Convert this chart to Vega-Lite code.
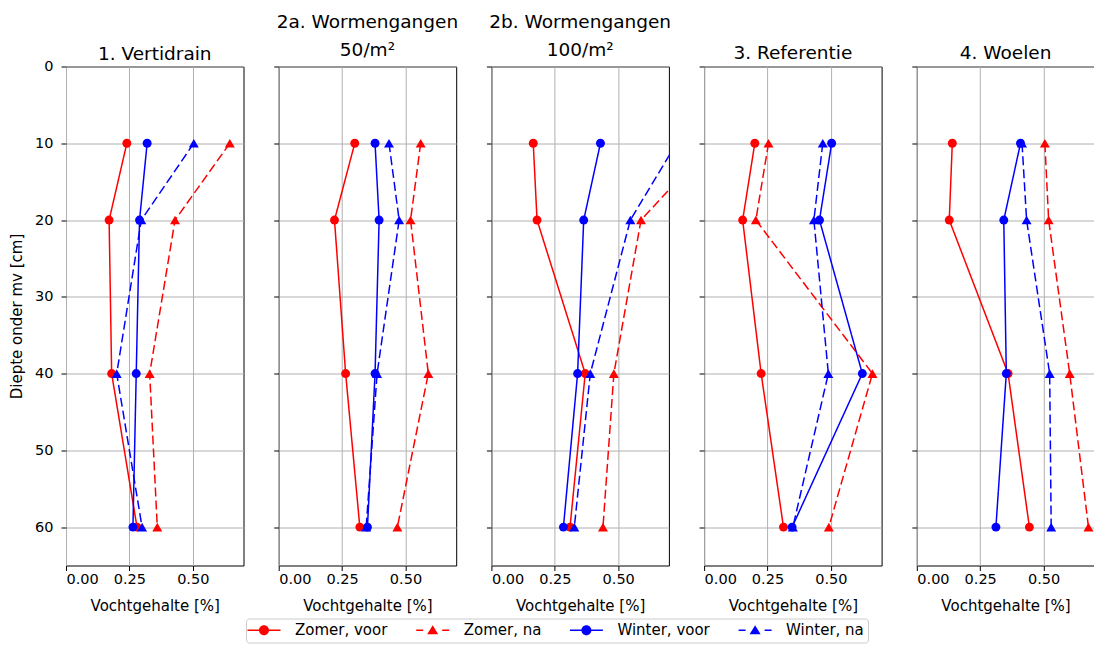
{
  "$schema": "https://vega.github.io/schema/vega-lite/v6.json",
  "autosize": {"type": "pad"},
  "padding": {"left": 8, "top": 12.5, "right": 0, "bottom": 3},
  "background": "#ffffff",
  "bounds": "flush",
  "spacing": 34.7,
  "data": {"values": [
    {"panel": "1", "series": "Zomer, voor", "depth": 10, "value": 0.24},
    {"panel": "1", "series": "Zomer, voor", "depth": 20, "value": 0.17},
    {"panel": "1", "series": "Zomer, voor", "depth": 40, "value": 0.18},
    {"panel": "1", "series": "Zomer, voor", "depth": 60, "value": 0.28},
    {"panel": "1", "series": "Zomer, na", "depth": 10, "value": 0.646},
    {"panel": "1", "series": "Zomer, na", "depth": 20, "value": 0.43},
    {"panel": "1", "series": "Zomer, na", "depth": 40, "value": 0.33},
    {"panel": "1", "series": "Zomer, na", "depth": 60, "value": 0.36},
    {"panel": "1", "series": "Winter, voor", "depth": 10, "value": 0.32},
    {"panel": "1", "series": "Winter, voor", "depth": 20, "value": 0.29},
    {"panel": "1", "series": "Winter, voor", "depth": 40, "value": 0.277},
    {"panel": "1", "series": "Winter, voor", "depth": 60, "value": 0.264},
    {"panel": "1", "series": "Winter, na", "depth": 10, "value": 0.504},
    {"panel": "1", "series": "Winter, na", "depth": 20, "value": 0.297},
    {"panel": "1", "series": "Winter, na", "depth": 40, "value": 0.2},
    {"panel": "1", "series": "Winter, na", "depth": 60, "value": 0.3},
    {"panel": "2a", "series": "Zomer, voor", "depth": 10, "value": 0.3},
    {"panel": "2a", "series": "Zomer, voor", "depth": 20, "value": 0.22},
    {"panel": "2a", "series": "Zomer, voor", "depth": 40, "value": 0.264},
    {"panel": "2a", "series": "Zomer, voor", "depth": 60, "value": 0.32},
    {"panel": "2a", "series": "Zomer, na", "depth": 10, "value": 0.56},
    {"panel": "2a", "series": "Zomer, na", "depth": 20, "value": 0.52},
    {"panel": "2a", "series": "Zomer, na", "depth": 40, "value": 0.59},
    {"panel": "2a", "series": "Zomer, na", "depth": 60, "value": 0.468},
    {"panel": "2a", "series": "Winter, voor", "depth": 10, "value": 0.38},
    {"panel": "2a", "series": "Winter, voor", "depth": 20, "value": 0.396},
    {"panel": "2a", "series": "Winter, voor", "depth": 40, "value": 0.38},
    {"panel": "2a", "series": "Winter, voor", "depth": 60, "value": 0.35},
    {"panel": "2a", "series": "Winter, na", "depth": 10, "value": 0.435},
    {"panel": "2a", "series": "Winter, na", "depth": 20, "value": 0.475},
    {"panel": "2a", "series": "Winter, na", "depth": 40, "value": 0.388},
    {"panel": "2a", "series": "Winter, na", "depth": 60, "value": 0.345},
    {"panel": "2b", "series": "Zomer, voor", "depth": 10, "value": 0.165},
    {"panel": "2b", "series": "Zomer, voor", "depth": 20, "value": 0.18},
    {"panel": "2b", "series": "Zomer, voor", "depth": 40, "value": 0.37},
    {"panel": "2b", "series": "Zomer, voor", "depth": 60, "value": 0.31},
    {"panel": "2b", "series": "Zomer, na", "depth": 10, "value": 0.87},
    {"panel": "2b", "series": "Zomer, na", "depth": 20, "value": 0.59},
    {"panel": "2b", "series": "Zomer, na", "depth": 40, "value": 0.483},
    {"panel": "2b", "series": "Zomer, na", "depth": 60, "value": 0.44},
    {"panel": "2b", "series": "Winter, voor", "depth": 10, "value": 0.43},
    {"panel": "2b", "series": "Winter, voor", "depth": 20, "value": 0.364},
    {"panel": "2b", "series": "Winter, voor", "depth": 40, "value": 0.34},
    {"panel": "2b", "series": "Winter, voor", "depth": 60, "value": 0.284},
    {"panel": "2b", "series": "Winter, na", "depth": 10, "value": 0.73},
    {"panel": "2b", "series": "Winter, na", "depth": 20, "value": 0.548},
    {"panel": "2b", "series": "Winter, na", "depth": 40, "value": 0.39},
    {"panel": "2b", "series": "Winter, na", "depth": 60, "value": 0.327},
    {"panel": "3", "series": "Zomer, voor", "depth": 10, "value": 0.2},
    {"panel": "3", "series": "Zomer, voor", "depth": 20, "value": 0.152},
    {"panel": "3", "series": "Zomer, voor", "depth": 40, "value": 0.225},
    {"panel": "3", "series": "Zomer, voor", "depth": 60, "value": 0.313},
    {"panel": "3", "series": "Zomer, na", "depth": 10, "value": 0.254},
    {"panel": "3", "series": "Zomer, na", "depth": 20, "value": 0.204},
    {"panel": "3", "series": "Zomer, na", "depth": 40, "value": 0.664},
    {"panel": "3", "series": "Zomer, na", "depth": 60, "value": 0.492},
    {"panel": "3", "series": "Winter, voor", "depth": 10, "value": 0.503},
    {"panel": "3", "series": "Winter, voor", "depth": 20, "value": 0.455},
    {"panel": "3", "series": "Winter, voor", "depth": 40, "value": 0.624},
    {"panel": "3", "series": "Winter, voor", "depth": 60, "value": 0.347},
    {"panel": "3", "series": "Winter, na", "depth": 10, "value": 0.468},
    {"panel": "3", "series": "Winter, na", "depth": 20, "value": 0.433},
    {"panel": "3", "series": "Winter, na", "depth": 40, "value": 0.49},
    {"panel": "3", "series": "Winter, na", "depth": 60, "value": 0.35},
    {"panel": "4", "series": "Zomer, voor", "depth": 10, "value": 0.14},
    {"panel": "4", "series": "Zomer, voor", "depth": 20, "value": 0.128},
    {"panel": "4", "series": "Zomer, voor", "depth": 40, "value": 0.36},
    {"panel": "4", "series": "Zomer, voor", "depth": 60, "value": 0.444},
    {"panel": "4", "series": "Zomer, na", "depth": 10, "value": 0.505},
    {"panel": "4", "series": "Zomer, na", "depth": 20, "value": 0.52},
    {"panel": "4", "series": "Zomer, na", "depth": 40, "value": 0.603},
    {"panel": "4", "series": "Zomer, na", "depth": 60, "value": 0.677},
    {"panel": "4", "series": "Winter, voor", "depth": 10, "value": 0.409},
    {"panel": "4", "series": "Winter, voor", "depth": 20, "value": 0.343},
    {"panel": "4", "series": "Winter, voor", "depth": 40, "value": 0.353},
    {"panel": "4", "series": "Winter, voor", "depth": 60, "value": 0.312},
    {"panel": "4", "series": "Winter, na", "depth": 10, "value": 0.415},
    {"panel": "4", "series": "Winter, na", "depth": 20, "value": 0.433},
    {"panel": "4", "series": "Winter, na", "depth": 40, "value": 0.524},
    {"panel": "4", "series": "Winter, na", "depth": 60, "value": 0.53}
  ]},
  "hconcat": [
    {
      "width": 177.5, "height": 499,
      "title": {"text": "1. Vertidrain", "baseline": "bottom", "offset": -23.5},
      "transform": [{"filter": "datum.panel == '1'"}],
      "encoding": {
        "x": {"field": "value", "type": "quantitative", "scale": {"domain": [0, 0.7], "nice": false, "zero": false}, "axis": {"values": [0, 0.25, 0.5], "format": ".2f", "title": "Vochtgehalte [%]"}},
        "y": {"field": "depth", "type": "quantitative", "scale": {"domain": [0, 65], "reverse": true, "nice": false, "zero": false}, "axis": {"values": [0, 10, 20, 30, 40, 50, 60], "title": "Diepte onder mv [cm]", "titlePadding": 10.5, "labelPadding": 8}},
        "color": {"field": "series", "type": "nominal", "scale": {"domain": ["Zomer, voor", "Zomer, na", "Winter, voor", "Winter, na"], "range": ["#ff0000", "#ff0000", "#0000ff", "#0000ff"]},
          "legend": {"orient": "none", "legendX": 180, "legendY": 552, "direction": "horizontal", "columns": 4, "title": null, "symbolSize": 100, "labelOffset": 30, "columnPadding": 27.7, "padding": 4, "strokeColor": "#cccccc", "cornerRadius": 3, "fillColor": "#ffffff", "labelFontSize": 15, "labelColor": "#000000", "symbolStrokeWidth": 0,
            "encode": {"symbols": {"update": {"shape": {"signal": "(datum.value == 'Zomer, voor' || datum.value == 'Winter, voor') ? 'M-2,-0.15H4.6V0.15H-2Z M2.3,0A1,1,0,1,1,0.3,0A1,1,0,1,1,2.3,0Z' : 'M-2,-0.15H-0.6V0.15H-2Z M3.2,-0.15H4.6V0.15H3.2Z M1.3,-1L2.4,0.8L0.2,0.8Z'"}, "fill": {"signal": "(datum.value == 'Zomer, voor' || datum.value == 'Zomer, na') ? '#ff0000' : '#0000ff'"}, "opacity": {"value": 1}, "strokeWidth": {"value": 0}}}}}}
      },
      "layer": [
        {"mark": {"type": "line", "strokeWidth": 1.5, "clip": true}, "encoding": {"strokeDash": {"field": "series", "type": "nominal", "scale": {"domain": ["Zomer, voor", "Zomer, na", "Winter, voor", "Winter, na"], "range": [[1, 0], [9, 4], [1, 0], [9, 4]]}, "legend": null}, "order": {"field": "depth", "type": "quantitative"}}},
        {"transform": [{"filter": "indexof(datum.series, 'voor') >= 0"}], "mark": {"type": "point", "shape": "circle", "filled": true, "opacity": 1, "size": 80, "clip": true}},
        {"transform": [{"filter": "indexof(datum.series, 'na') >= 0"}], "mark": {"type": "point", "shape": "triangle-up", "filled": true, "opacity": 1, "size": 100, "clip": true}}
      ]
    },
    {
      "width": 177.5, "height": 499,
      "title": {"text": ["2a. Wormengangen", "50/m²"], "baseline": "bottom", "offset": -12.5, "lineHeight": 28},
      "transform": [{"filter": "datum.panel == '2a'"}],
      "encoding": {
        "x": {"field": "value", "type": "quantitative", "scale": {"domain": [0, 0.7], "nice": false, "zero": false}, "axis": {"values": [0, 0.25, 0.5], "format": ".2f", "title": "Vochtgehalte [%]"}},
        "y": {"field": "depth", "type": "quantitative", "scale": {"domain": [0, 65], "reverse": true, "nice": false, "zero": false}, "axis": {"values": [0, 10, 20, 30, 40, 50, 60], "title": null, "labels": false}},
        "color": {"field": "series", "type": "nominal", "scale": {"domain": ["Zomer, voor", "Zomer, na", "Winter, voor", "Winter, na"], "range": ["#ff0000", "#ff0000", "#0000ff", "#0000ff"]},
          "legend": {"orient": "none", "legendX": 180, "legendY": 552, "direction": "horizontal", "columns": 4, "title": null, "symbolSize": 100, "labelOffset": 30, "columnPadding": 27.7, "padding": 4, "strokeColor": "#cccccc", "cornerRadius": 3, "fillColor": "#ffffff", "labelFontSize": 15, "labelColor": "#000000", "symbolStrokeWidth": 0,
            "encode": {"symbols": {"update": {"shape": {"signal": "(datum.value == 'Zomer, voor' || datum.value == 'Winter, voor') ? 'M-2,-0.15H4.6V0.15H-2Z M2.3,0A1,1,0,1,1,0.3,0A1,1,0,1,1,2.3,0Z' : 'M-2,-0.15H-0.6V0.15H-2Z M3.2,-0.15H4.6V0.15H3.2Z M1.3,-1L2.4,0.8L0.2,0.8Z'"}, "fill": {"signal": "(datum.value == 'Zomer, voor' || datum.value == 'Zomer, na') ? '#ff0000' : '#0000ff'"}, "opacity": {"value": 1}, "strokeWidth": {"value": 0}}}}}}
      },
      "layer": [
        {"mark": {"type": "line", "strokeWidth": 1.5, "clip": true}, "encoding": {"strokeDash": {"field": "series", "type": "nominal", "scale": {"domain": ["Zomer, voor", "Zomer, na", "Winter, voor", "Winter, na"], "range": [[1, 0], [9, 4], [1, 0], [9, 4]]}, "legend": null}, "order": {"field": "depth", "type": "quantitative"}}},
        {"transform": [{"filter": "indexof(datum.series, 'voor') >= 0"}], "mark": {"type": "point", "shape": "circle", "filled": true, "opacity": 1, "size": 80, "clip": true}},
        {"transform": [{"filter": "indexof(datum.series, 'na') >= 0"}], "mark": {"type": "point", "shape": "triangle-up", "filled": true, "opacity": 1, "size": 100, "clip": true}}
      ]
    },
    {
      "width": 177.5, "height": 499,
      "title": {"text": ["2b. Wormengangen", "100/m²"], "baseline": "bottom", "offset": -12.5, "lineHeight": 28},
      "transform": [{"filter": "datum.panel == '2b'"}],
      "encoding": {
        "x": {"field": "value", "type": "quantitative", "scale": {"domain": [0, 0.7], "nice": false, "zero": false}, "axis": {"values": [0, 0.25, 0.5], "format": ".2f", "title": "Vochtgehalte [%]"}},
        "y": {"field": "depth", "type": "quantitative", "scale": {"domain": [0, 65], "reverse": true, "nice": false, "zero": false}, "axis": {"values": [0, 10, 20, 30, 40, 50, 60], "title": null, "labels": false}},
        "color": {"field": "series", "type": "nominal", "scale": {"domain": ["Zomer, voor", "Zomer, na", "Winter, voor", "Winter, na"], "range": ["#ff0000", "#ff0000", "#0000ff", "#0000ff"]},
          "legend": {"orient": "none", "legendX": 180, "legendY": 552, "direction": "horizontal", "columns": 4, "title": null, "symbolSize": 100, "labelOffset": 30, "columnPadding": 27.7, "padding": 4, "strokeColor": "#cccccc", "cornerRadius": 3, "fillColor": "#ffffff", "labelFontSize": 15, "labelColor": "#000000", "symbolStrokeWidth": 0,
            "encode": {"symbols": {"update": {"shape": {"signal": "(datum.value == 'Zomer, voor' || datum.value == 'Winter, voor') ? 'M-2,-0.15H4.6V0.15H-2Z M2.3,0A1,1,0,1,1,0.3,0A1,1,0,1,1,2.3,0Z' : 'M-2,-0.15H-0.6V0.15H-2Z M3.2,-0.15H4.6V0.15H3.2Z M1.3,-1L2.4,0.8L0.2,0.8Z'"}, "fill": {"signal": "(datum.value == 'Zomer, voor' || datum.value == 'Zomer, na') ? '#ff0000' : '#0000ff'"}, "opacity": {"value": 1}, "strokeWidth": {"value": 0}}}}}}
      },
      "layer": [
        {"mark": {"type": "line", "strokeWidth": 1.5, "clip": true}, "encoding": {"strokeDash": {"field": "series", "type": "nominal", "scale": {"domain": ["Zomer, voor", "Zomer, na", "Winter, voor", "Winter, na"], "range": [[1, 0], [9, 4], [1, 0], [9, 4]]}, "legend": null}, "order": {"field": "depth", "type": "quantitative"}}},
        {"transform": [{"filter": "indexof(datum.series, 'voor') >= 0"}], "mark": {"type": "point", "shape": "circle", "filled": true, "opacity": 1, "size": 80, "clip": true}},
        {"transform": [{"filter": "indexof(datum.series, 'na') >= 0"}], "mark": {"type": "point", "shape": "triangle-up", "filled": true, "opacity": 1, "size": 100, "clip": true}}
      ]
    },
    {
      "width": 177.5, "height": 499,
      "title": {"text": "3. Referentie", "baseline": "bottom", "offset": -15.5},
      "transform": [{"filter": "datum.panel == '3'"}],
      "encoding": {
        "x": {"field": "value", "type": "quantitative", "scale": {"domain": [0, 0.7], "nice": false, "zero": false}, "axis": {"values": [0, 0.25, 0.5], "format": ".2f", "title": "Vochtgehalte [%]"}},
        "y": {"field": "depth", "type": "quantitative", "scale": {"domain": [0, 65], "reverse": true, "nice": false, "zero": false}, "axis": {"values": [0, 10, 20, 30, 40, 50, 60], "title": null, "labels": false}},
        "color": {"field": "series", "type": "nominal", "scale": {"domain": ["Zomer, voor", "Zomer, na", "Winter, voor", "Winter, na"], "range": ["#ff0000", "#ff0000", "#0000ff", "#0000ff"]},
          "legend": {"orient": "none", "legendX": 180, "legendY": 552, "direction": "horizontal", "columns": 4, "title": null, "symbolSize": 100, "labelOffset": 30, "columnPadding": 27.7, "padding": 4, "strokeColor": "#cccccc", "cornerRadius": 3, "fillColor": "#ffffff", "labelFontSize": 15, "labelColor": "#000000", "symbolStrokeWidth": 0,
            "encode": {"symbols": {"update": {"shape": {"signal": "(datum.value == 'Zomer, voor' || datum.value == 'Winter, voor') ? 'M-2,-0.15H4.6V0.15H-2Z M2.3,0A1,1,0,1,1,0.3,0A1,1,0,1,1,2.3,0Z' : 'M-2,-0.15H-0.6V0.15H-2Z M3.2,-0.15H4.6V0.15H3.2Z M1.3,-1L2.4,0.8L0.2,0.8Z'"}, "fill": {"signal": "(datum.value == 'Zomer, voor' || datum.value == 'Zomer, na') ? '#ff0000' : '#0000ff'"}, "opacity": {"value": 1}, "strokeWidth": {"value": 0}}}}}}
      },
      "layer": [
        {"mark": {"type": "line", "strokeWidth": 1.5, "clip": true}, "encoding": {"strokeDash": {"field": "series", "type": "nominal", "scale": {"domain": ["Zomer, voor", "Zomer, na", "Winter, voor", "Winter, na"], "range": [[1, 0], [9, 4], [1, 0], [9, 4]]}, "legend": null}, "order": {"field": "depth", "type": "quantitative"}}},
        {"transform": [{"filter": "indexof(datum.series, 'voor') >= 0"}], "mark": {"type": "point", "shape": "circle", "filled": true, "opacity": 1, "size": 80, "clip": true}},
        {"transform": [{"filter": "indexof(datum.series, 'na') >= 0"}], "mark": {"type": "point", "shape": "triangle-up", "filled": true, "opacity": 1, "size": 100, "clip": true}}
      ]
    },
    {
      "width": 177.5, "height": 499,
      "title": {"text": "4. Woelen", "baseline": "bottom", "offset": -15.5},
      "transform": [{"filter": "datum.panel == '4'"}],
      "encoding": {
        "x": {"field": "value", "type": "quantitative", "scale": {"domain": [0, 0.7], "nice": false, "zero": false}, "axis": {"values": [0, 0.25, 0.5], "format": ".2f", "title": "Vochtgehalte [%]"}},
        "y": {"field": "depth", "type": "quantitative", "scale": {"domain": [0, 65], "reverse": true, "nice": false, "zero": false}, "axis": {"values": [0, 10, 20, 30, 40, 50, 60], "title": null, "labels": false}},
        "color": {"field": "series", "type": "nominal", "scale": {"domain": ["Zomer, voor", "Zomer, na", "Winter, voor", "Winter, na"], "range": ["#ff0000", "#ff0000", "#0000ff", "#0000ff"]},
          "legend": {"orient": "none", "legendX": 180, "legendY": 552, "direction": "horizontal", "columns": 4, "title": null, "symbolSize": 100, "labelOffset": 30, "columnPadding": 27.7, "padding": 4, "strokeColor": "#cccccc", "cornerRadius": 3, "fillColor": "#ffffff", "labelFontSize": 15, "labelColor": "#000000", "symbolStrokeWidth": 0,
            "encode": {"symbols": {"update": {"shape": {"signal": "(datum.value == 'Zomer, voor' || datum.value == 'Winter, voor') ? 'M-2,-0.15H4.6V0.15H-2Z M2.3,0A1,1,0,1,1,0.3,0A1,1,0,1,1,2.3,0Z' : 'M-2,-0.15H-0.6V0.15H-2Z M3.2,-0.15H4.6V0.15H3.2Z M1.3,-1L2.4,0.8L0.2,0.8Z'"}, "fill": {"signal": "(datum.value == 'Zomer, voor' || datum.value == 'Zomer, na') ? '#ff0000' : '#0000ff'"}, "opacity": {"value": 1}, "strokeWidth": {"value": 0}}}}}}
      },
      "layer": [
        {"mark": {"type": "line", "strokeWidth": 1.5, "clip": true}, "encoding": {"strokeDash": {"field": "series", "type": "nominal", "scale": {"domain": ["Zomer, voor", "Zomer, na", "Winter, voor", "Winter, na"], "range": [[1, 0], [9, 4], [1, 0], [9, 4]]}, "legend": null}, "order": {"field": "depth", "type": "quantitative"}}},
        {"transform": [{"filter": "indexof(datum.series, 'voor') >= 0"}], "mark": {"type": "point", "shape": "circle", "filled": true, "opacity": 1, "size": 80, "clip": true}},
        {"transform": [{"filter": "indexof(datum.series, 'na') >= 0"}], "mark": {"type": "point", "shape": "triangle-up", "filled": true, "opacity": 1, "size": 100, "clip": true}}
      ]
    }
  ],
  "config": {
    "font": "DejaVu Sans",
    "view": {"stroke": "#000000", "strokeWidth": 1},
    "axis": {"domain": false, "grid": true, "gridColor": "#b0b0b0", "gridWidth": 1, "gridOpacity": 1, "tickColor": "#000000", "tickSize": 5, "tickWidth": 1, "labelFontSize": 14.5, "labelColor": "#000000", "labelPadding": 2, "titleFontSize": 15, "titleFontWeight": "normal", "titleColor": "#000000", "titlePadding": 12, "labelFont": "DejaVu Sans", "titleFont": "DejaVu Sans"},
    "title": {"fontSize": 18.5, "fontWeight": "normal", "color": "#000000", "font": "DejaVu Sans", "anchor": "middle"},
    "legend": {"labelFont": "DejaVu Sans"}
  }
}
